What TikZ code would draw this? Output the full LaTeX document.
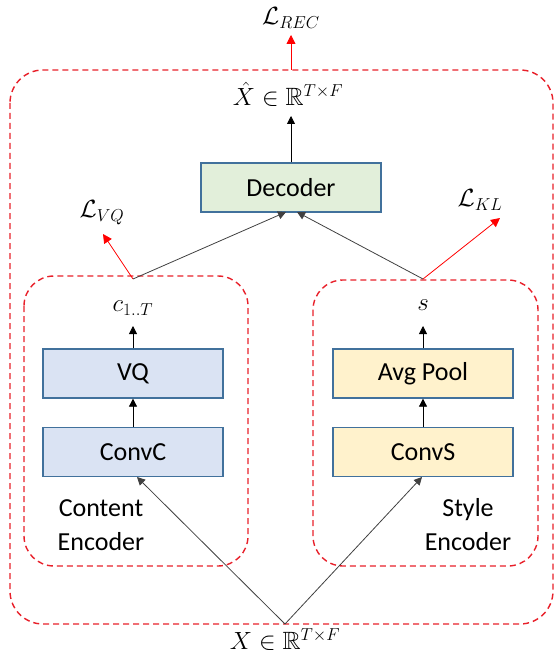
\documentclass[tikz,border=0pt]{standalone}
\usepackage{amssymb}
\usepackage{fontspec}
\newfontfamily\carlito{Carlito}
\usetikzlibrary{arrows.meta}
\definecolor{boxline}{HTML}{41719C}
\definecolor{decfill}{HTML}{E2EFDA}
\definecolor{bluefill}{HTML}{DAE3F3}
\definecolor{yelfill}{HTML}{FFF2CC}
\definecolor{dashred}{HTML}{E8202A}
\definecolor{conn}{HTML}{404040}
\tikzset{
  blk/.style={draw=boxline, line width=1.3pt, minimum width=180pt, minimum height=49pt, inner sep=0pt, font=\carlito\fontsize{26}{30}\selectfont},
  grp/.style={draw=dashred, line width=1.4pt, dash pattern=on 6pt off 4pt},
  lbl/.style={inner sep=0pt, font=\fontsize{25}{30}\selectfont},
  txt/.style={inner sep=0pt, align=center, font=\carlito\fontsize{26}{34}\selectfont},
  arr/.style={draw=black, line width=0.8pt, -{Triangle[length=8pt,width=8pt]}},
  conarr/.style={draw=conn, line width=0.8pt, -{Triangle[length=8pt,width=8pt]}},
  redarr/.style={draw=red, line width=0.8pt, -{Triangle[length=9pt,width=9pt]}}
}
\begin{document}
\begin{tikzpicture}[x=1pt,y=-1pt]
\useasboundingbox (0,0) rectangle (555,655);
% dashed groups
\draw[grp, rounded corners=33pt] (10,70) rectangle (553,624);
\draw[grp, rounded corners=30pt] (24,276) rectangle (248,566);
\draw[grp, rounded corners=30pt] (313,280) rectangle (538,566);
% blocks
\node[blk, fill=decfill] (dec) at (291,187.5) {Decoder};
\node[blk, fill=bluefill] (vq) at (133,373.5) {VQ};
\node[blk, fill=bluefill] (convc) at (133,452) {ConvC};
\node[blk, fill=yelfill] (avg) at (423,373.5) {Avg Pool};
\node[blk, fill=yelfill] (convs) at (423,452) {ConvS};
% labels
\node[lbl] (lrec) at (291,18) {$\mathcal{L}_{REC}$};
\node[lbl] (xhat) at (288,94) {$\hat{X}\in\mathbb{R}^{T\times F}$};
\node[lbl] (lvq) at (102,213) {$\mathcal{L}_{VQ}$};
\node[lbl] (lkl) at (480,200) {$\mathcal{L}_{KL}$};
\node[lbl] (c) at (133,308) {$c_{1..T}$};
\node[lbl] (s) at (423,305) {$s$};
\node[lbl] (x) at (285,640) {$X\in\mathbb{R}^{T\times F}$};
\node[txt] (ctxt) at (101,525) {Content\\Encoder};
\node[txt] (stxt) at (468,525) {Style\\Encoder};
% coordinates
\coordinate (jc) at (133,279);
\coordinate (js) at (423,279);
\coordinate (jx) at (285,624);
\coordinate (jtop) at (291,70);
\coordinate (tiprec) at (291,35);
\coordinate (tipxhat) at (291,116);
\coordinate (tipvq) at (103,234);
\coordinate (tipkl) at (500,218);
\coordinate (tipc) at (133,326);
\coordinate (tips) at (423,326);
\coordinate (decl) at (286,212);
\coordinate (decr) at (297,212);
\coordinate (convcin) at (137,477);
\coordinate (convsin) at (422,477);
% connectors
\draw[arr] (dec.north) -- (tipxhat);
\draw[redarr] (jtop) -- (tiprec);
\draw[redarr] (jc) -- (tipvq);
\draw[redarr] (js) -- (tipkl);
\draw[conarr] (jc) -- (decl);
\draw[conarr] (js) -- (decr);
\draw[arr] (vq.north) -- (tipc);
\draw[arr] (avg.north) -- (tips);
\draw[arr] (convc.north) -- (vq.south);
\draw[arr] (convs.north) -- (avg.south);
\draw[conarr] (jx) -- (convcin);
\draw[conarr] (jx) -- (convsin);
\end{tikzpicture}
\end{document}
